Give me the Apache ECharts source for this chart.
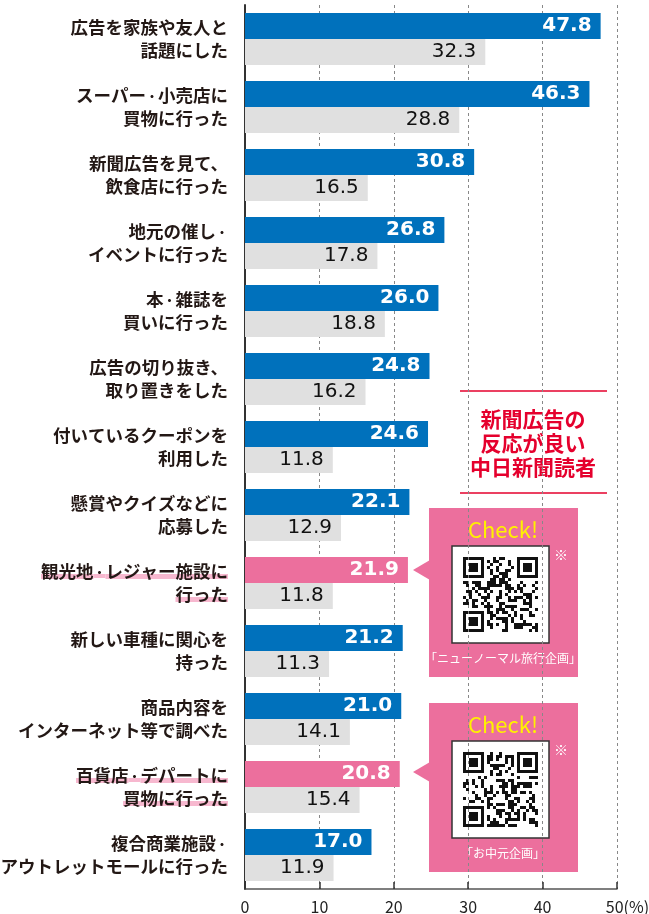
<!DOCTYPE html>
<html>
<head>
<meta charset="utf-8">
<script src="https://cdn.jsdelivr.net/npm/echarts@6/dist/echarts.min.js"></script>
<style>
  html, body { margin: 0; padding: 0; background: #fff; }
  #main { width: 649px; height: 914px; }
</style>
</head>
<body>
<div id="main"></div>
<script>
var categories = [
  "広告を家族や友人と\n話題にした",
  "スーパー・小売店に\n買物に行った",
  "新聞広告を見て、\n飲食店に行った",
  "地元の催し・\nイベントに行った",
  "本・雑誌を\n買いに行った",
  "広告の切り抜き、\n取り置きをした",
  "付いているクーポンを\n利用した",
  "懸賞やクイズなどに\n応募した",
  "観光地・レジャー施設に\n行った",
  "新しい車種に関心を\n持った",
  "商品内容を\nインターネット等で調べた",
  "百貨店・デパートに\n買物に行った",
  "複合商業施設・\nアウトレットモールに行った"
];
var chunichiValues = [47.8, 46.3, 30.8, 26.8, 26.0, 24.8, 24.6, 22.1, 21.9, 21.2, 21.0, 20.8, 17.0];
var otherValues = [32.3, 28.8, 16.5, 17.8, 18.8, 16.2, 11.8, 12.9, 11.8, 11.3, 14.1, 15.4, 11.9];
var highlighted = [8, 11];
var boxCaptions = ["「ニューノーマル旅行企画」", "「お中元企画」"];

var blue = "#0071bc";
var grey = "#e0e0e0";
var pink = "#ec6f9d";
var red = "#e5002d";
var font = "'Noto Sans CJK JP', 'Noto Sans', sans-serif";
var numFont = "'DejaVu Sans', sans-serif";

var myChart = echarts.init(document.getElementById("main"));

// 蛍光ペン風の下線
var marker = new echarts.graphic.LinearGradient(0, 0, 0, 1, [
  { offset: 0, color: "rgba(255,255,255,0)" },
  { offset: 0.64, color: "rgba(255,255,255,0)" },
  { offset: 0.64, color: "#f7b8cf" },
  { offset: 0.92, color: "#f7b8cf" },
  { offset: 0.92, color: "rgba(255,255,255,0)" },
  { offset: 1, color: "rgba(255,255,255,0)" }
]);

// QRコード風の飾り（ダミー）
function makeQr(seed) {
  var n = 25, s = 3;
  var cv = document.createElement("canvas");
  cv.width = n * s;
  cv.height = n * s;
  var ctx = cv.getContext("2d");
  ctx.fillStyle = "#fff";
  ctx.fillRect(0, 0, n * s, n * s);
  ctx.fillStyle = "#111";
  function finder(r0, c0) {
    for (var r = 0; r < 7; r++) {
      for (var c = 0; c < 7; c++) {
        var edge = r == 0 || r == 6 || c == 0 || c == 6;
        var core = r >= 2 && r <= 4 && c >= 2 && c <= 4;
        if (edge || core) ctx.fillRect((c0 + c) * s, (r0 + r) * s, s, s);
      }
    }
  }
  for (var r = 0; r < n; r++) {
    for (var c = 0; c < n; c++) {
      var inFinder = (r < 8 && c < 8) || (r < 8 && c > n - 9) || (r > n - 9 && c < 8);
      if (inFinder) continue;
      var v = ((r * 31 + c * 17 + seed) ^ (r * c + seed * 7)) % 7;
      if (v < 3) ctx.fillRect(c * s, r * s, s, s);
    }
  }
  finder(0, 0);
  finder(0, n - 7);
  finder(n - 7, 0);
  return cv;
}

function checkBox(top, pointerY, caption, seed) {
  return [
    {
      type: "polygon",
      shape: { points: [[413, pointerY], [430, pointerY - 10], [430, pointerY + 10]] },
      style: { fill: pink }
    },
    {
      type: "rect",
      shape: { x: 429, y: top, width: 149, height: 169 },
      style: { fill: pink }
    },
    {
      type: "text",
      x: 503, y: top + 22,
      style: { text: "Check!", fill: "#fff100", font: "22px " + font, align: "center", verticalAlign: "middle" }
    },
    {
      type: "rect",
      shape: { x: 452, y: top + 38, width: 97, height: 97 },
      style: { fill: "#fff", stroke: "#333", lineWidth: 1.5 }
    },
    {
      type: "image",
      style: { image: makeQr(seed), x: 463, y: top + 49, width: 75, height: 75 }
    },
    {
      type: "text",
      x: 561, y: top + 47,
      style: { text: "※", fill: "#fff", font: "14px " + font, align: "center", verticalAlign: "middle" }
    },
    {
      type: "text",
      x: 503, y: top + 150,
      style: { text: caption, fill: "#fff", font: "12px " + font, align: "center", verticalAlign: "middle" }
    }
  ];
}

var graphics = [
  { type: "line", shape: { x1: 460, y1: 391, x2: 607, y2: 391 }, style: { stroke: red, lineWidth: 1.5 } },
  { type: "line", shape: { x1: 460, y1: 493, x2: 607, y2: 493 }, style: { stroke: red, lineWidth: 1.5 } },
  {
    type: "text",
    x: 533, y: 443,
    style: {
      text: "新聞広告の\n反応が良い\n中日新聞読者",
      fill: red,
      font: "bold 21px " + font,
      lineHeight: 24,
      align: "center",
      verticalAlign: "middle"
    }
  }
]
  .concat(checkBox(508, 570, boxCaptions[0], 3))
  .concat(checkBox(703, 772, boxCaptions[1], 11));

// 中黒は小さめの字で詰めて表示する
function wrapLine(line, style) {
  var dot = style == "h" ? "hd" : "d";
  return line
    .split("・")
    .map(function(part) { return part ? "{" + style + "|" + part + "}" : ""; })
    .join("{" + dot + "|・}");
}

var labelBase = { fontSize: 17.5, fontWeight: "bold", color: "#231815", lineHeight: 23 };

myChart.setOption({
  animation: false,
  backgroundColor: "#fff",
  textStyle: { fontFamily: font },
  grid: { left: 245, right: 32, top: 5, bottom: 25, containLabel: false, outerBoundsMode: "none" },
  xAxis: {
    type: "value",
    min: 0,
    max: 50,
    interval: 10,
    axisLine: { show: true, lineStyle: { color: "#555", width: 1.5 } },
    axisTick: { show: true, inside: true, length: 7, lineStyle: { color: "#333", width: 1.5 } },
    splitLine: { show: true, lineStyle: { color: "#888", type: [3, 3], width: 1 } },
    axisLabel: {
      fontSize: 16,
      color: "#222",
      margin: 10,
      formatter: function(v) {
        return v === 50 ? "{s|}{v|50}{p|(%)}" : "{v|" + v + "}";
      },
      rich: {
        s: { width: 21 },
        v: { fontSize: 16, color: "#222" },
        p: { fontSize: 16, color: "#222" }
      }
    }
  },
  yAxis: {
    type: "category",
    inverse: true,
    data: categories,
    axisLine: { show: true, lineStyle: { color: "#333", width: 2 } },
    axisTick: { show: false },
    axisLabel: {
      margin: 17,
      color: "#231815",
      fontSize: 17.5,
      fontWeight: "bold",
      lineHeight: 23,
      align: "right",
      formatter: function(value, idx) {
        var style = highlighted.indexOf(idx) < 0 ? "n" : "h";
        return value
          .split("\n")
          .map(function(l) { return wrapLine(l, style); })
          .join("\n");
      },
      rich: {
        n: labelBase,
        h: Object.assign({}, labelBase, { backgroundColor: marker }),
        d: Object.assign({}, labelBase, { fontSize: 12, padding: [3, 0, 0, 0] }),
        hd: Object.assign({}, labelBase, { fontSize: 12, padding: [3, 0, 0, 0], backgroundColor: marker })
      }
    }
  },
  series: [
    {
      name: "中日新聞読者",
      type: "bar",
      barWidth: 26,
      barGap: "0%",
      data: chunichiValues.map(function(v, i) {
        return highlighted.indexOf(i) >= 0 ? { value: v, itemStyle: { color: pink } } : v;
      }),
      itemStyle: { color: blue },
      label: {
        show: true,
        position: "insideRight",
        distance: 9,
        color: "#fff",
        fontFamily: numFont,
        fontSize: 20,
        fontWeight: "bold",
        formatter: function(p) { return p.value.toFixed(1); }
      }
    },
    {
      name: "その他",
      type: "bar",
      barWidth: 26,
      barGap: "0%",
      data: otherValues,
      itemStyle: { color: grey },
      label: {
        show: true,
        position: "insideRight",
        distance: 9,
        color: "#111",
        fontFamily: numFont,
        fontSize: 20,
        formatter: function(p) { return p.value.toFixed(1); }
      }
    }
  ],
  graphic: graphics
});
</script>
</body>
</html>
